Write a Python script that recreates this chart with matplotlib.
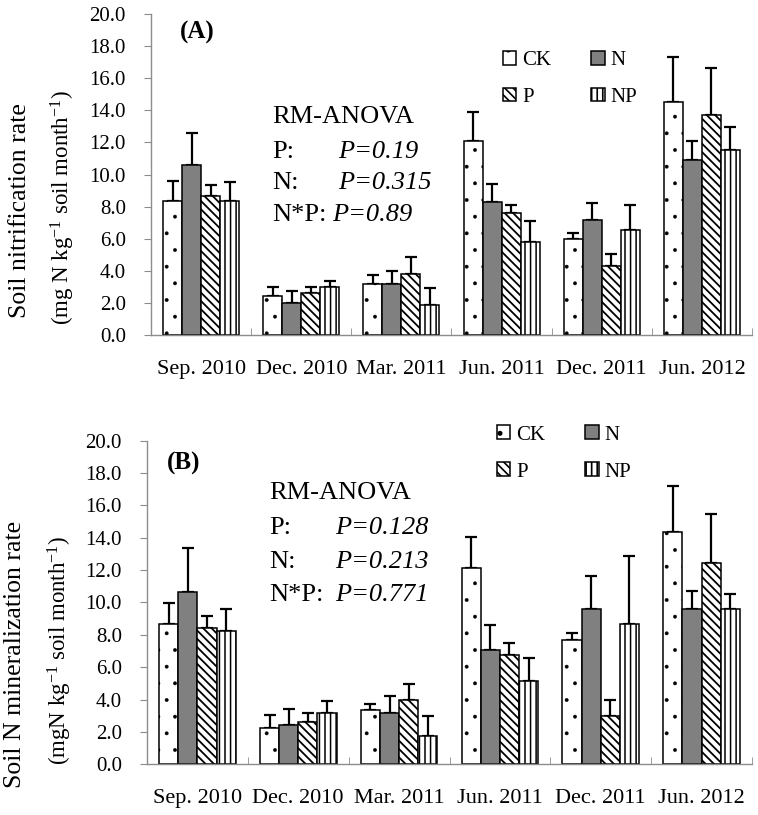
import numpy as np
import matplotlib
matplotlib.use("Agg")
import matplotlib.pyplot as plt
from matplotlib.patches import Patch

plt.rcParams['font.family'] = ['Liberation Serif', 'DejaVu Serif']
plt.rcParams['mathtext.fontset'] = 'custom'
plt.rcParams['mathtext.rm'] = 'Liberation Serif'
plt.rcParams['mathtext.it'] = 'Liberation Serif:italic'
plt.rcParams['hatch.linewidth'] = 1.2

# sampling dates and treatments
dates = ["Sep. 2010", "Dec. 2010", "Mar. 2011", "Jun. 2011", "Dec. 2011", "Jun. 2012"]
treatments = ["CK", "N", "P", "NP"]

# (A) nitrification rate: means and upper error bars
nit_ck = [8.37, 2.43, 3.16, 12.09, 6.00, 14.52]
nit_n = [10.59, 1.97, 3.16, 8.27, 7.18, 10.90]
nit_p = [8.66, 2.60, 3.78, 7.62, 4.30, 13.70]
nit_np = [8.37, 2.97, 1.87, 5.79, 6.56, 11.53]
nit_ck_se = [1.23, 0.58, 0.58, 1.78, 0.36, 2.82]
nit_n_se = [2.01, 0.77, 0.83, 1.16, 1.06, 1.17]
nit_p_se = [0.67, 0.40, 1.08, 0.50, 0.75, 2.94]
nit_np_se = [1.16, 0.39, 1.08, 1.31, 1.56, 1.43]

# (B) mineralization rate: means and upper error bars
min_ck = [8.65, 2.22, 3.38, 12.15, 7.70, 14.34]
min_n = [10.67, 2.43, 3.15, 7.09, 9.60, 9.60]
min_p = [8.44, 2.64, 4.00, 6.76, 2.97, 12.44]
min_np = [8.24, 3.15, 1.77, 5.17, 8.65, 9.60]
min_ck_se = [1.34, 0.83, 0.33, 1.88, 0.44, 2.84]
min_n_se = [2.72, 1.01, 1.07, 1.54, 2.02, 1.13]
min_p_se = [0.73, 0.51, 0.94, 0.72, 1.01, 3.05]
min_np_se = [1.34, 0.76, 1.22, 1.38, 4.24, 0.95]

# ANOVA results
anova_a = [("P:", "P=0.19"), ("N:", "P=0.315"), ("N*P:", "P=0.89")]
anova_b = [("P:", "P=0.128"), ("N:", "P=0.213"), ("N*P:", "P=0.771")]

styles = {
    "CK": dict(facecolor="white", hatch=".", hlw=0.3),
    "N": dict(facecolor="#808080", hatch=None, hlw=1.2),
    "P": dict(facecolor="white", hatch="\\\\\\\\", hlw=1.3),
    "NP": dict(facecolor="white", hatch="|||", hlw=1.1),
}

GRAY = "#8c8c8c"


def set_hlw(patches, lw):
    for p in patches:
        if hasattr(p, "set_hatch_linewidth"):
            p.set_hatch_linewidth(lw)


def draw_panel(ax, means, errs, tag, anova, ylab1, ylab2, pos):
    width = 0.19
    x = np.arange(len(dates))
    for k, name in enumerate(treatments):
        off = (k - 1.5) * width
        st = styles[name]
        ax.errorbar(x + off, means[k], yerr=[np.zeros(len(dates)), errs[k]],
                    fmt="none", ecolor="black", elinewidth=1.6, capsize=4.5,
                    capthick=1.6, zorder=1)
        with plt.rc_context({"hatch.linewidth": st["hlw"]}):
            bars = ax.bar(x + off, means[k], width, color=st["facecolor"],
                          hatch=st["hatch"], edgecolor="black", linewidth=1.1,
                          zorder=2)
        set_hlw(bars, st["hlw"])

    ax.set_xlim(-0.5, 5.5)
    ax.set_ylim(0, 20)
    ax.set_yticks(np.arange(0, 20.1, 2))
    ax.set_yticklabels(["%.1f" % v for v in np.arange(0, 20.1, 2)], fontsize=15)
    ax.set_xticks(x)
    ax.set_xticklabels(dates, fontsize=16)
    ax.set_xticks(np.arange(0.5, 6, 1), minor=True)
    ax.tick_params(axis="x", which="major", length=0, pad=18)
    ax.tick_params(axis="x", which="minor", direction="in", length=5, color=GRAY)
    ax.tick_params(axis="y", direction="out", length=5, color=GRAY, pad=13)
    for s in ["top", "right"]:
        ax.spines[s].set_visible(False)
    for s in ["left", "bottom"]:
        ax.spines[s].set_color(GRAY)
        ax.spines[s].set_linewidth(1.0)

    # two-line y label
    ax.text(pos["l1"][0], pos["l1"][1], ylab1, transform=ax.transAxes,
            rotation=90, fontsize=18.5, ha="center", va="center")
    ax.text(pos["l2"][0], pos["l2"][1], ylab2, transform=ax.transAxes,
            rotation=90, fontsize=16.5, ha="center", va="center")

    ax.text(pos["tag_x"], pos["tag_y"], tag, transform=ax.transAxes, fontsize=18,
            fontweight="bold", va="center", ha="left")
    ax.text(pos["tx"], pos["ty"][0], "RM-ANOVA", transform=ax.transAxes,
            fontsize=19, va="center", ha="left")
    for i, (lab, val) in enumerate(anova):
        ax.text(pos["tx"], pos["ty"][i + 1], lab, transform=ax.transAxes,
                fontsize=19, va="center", ha="left")
        vx = pos["vx"][i]
        ax.text(vx, pos["ty"][i + 1], val, transform=ax.transAxes, fontsize=19,
                fontstyle="italic", va="center", ha="left")

    handles = []
    for n in treatments:
        st = styles[n]
        with plt.rc_context({"hatch.linewidth": st["hlw"]}):
            h = Patch(facecolor=st["facecolor"], hatch=st["hatch"],
                      edgecolor="black", linewidth=1.1)
        set_hlw([h], st["hlw"])
        handles.append(h)
    order = [0, 2, 1, 3]
    ax.legend([handles[i] for i in order], [treatments[i] for i in order], ncol=2,
              frameon=False, fontsize=15, loc="upper left",
              bbox_to_anchor=pos["leg"], borderpad=0, handlelength=0.65,
              handleheight=0.65, handletextpad=0.3, columnspacing=1.9,
              labelspacing=0.85, borderaxespad=0)


fig = plt.figure(figsize=(7.58, 8.15), dpi=100)
ax1 = fig.add_axes([151 / 758, 1 - 335 / 815, 601 / 758, 321 / 815])
ax2 = fig.add_axes([147 / 758, 1 - 764.3 / 815, 605 / 758, 323.6 / 815])

draw_panel(ax1, [nit_ck, nit_n, nit_p, nit_np],
           [nit_ck_se, nit_n_se, nit_p_se, nit_np_se], "(A)", anova_a,
           "Soil nitrification rate",
           "(mg N kg$^{-1}$ soil month$^{-1}$)",
           dict(l1=(-0.218, 0.389), l2=(-0.146, 0.396), tag_x=0.048, tag_y=0.941,
                tx=0.201, ty=[0.679, 0.570, 0.474, 0.374],
                vx=[0.311, 0.311, 0.301], leg=(0.585, 0.886)))
draw_panel(ax2, [min_ck, min_n, min_p, min_np],
           [min_ck_se, min_n_se, min_p_se, min_np_se], "(B)", anova_b,
           "Soil N mineralization rate",
           "(mgN kg$^{-1}$ soil month$^{-1}$)",
           dict(l1=(-0.218, 0.338), l2=(-0.144, 0.351), tag_x=0.033, tag_y=0.931,
                tx=0.202, ty=[0.838, 0.730, 0.625, 0.523],
                vx=[0.311, 0.311, 0.311], leg=(0.578, 1.047)))

fig.savefig("out.png", dpi=100)
